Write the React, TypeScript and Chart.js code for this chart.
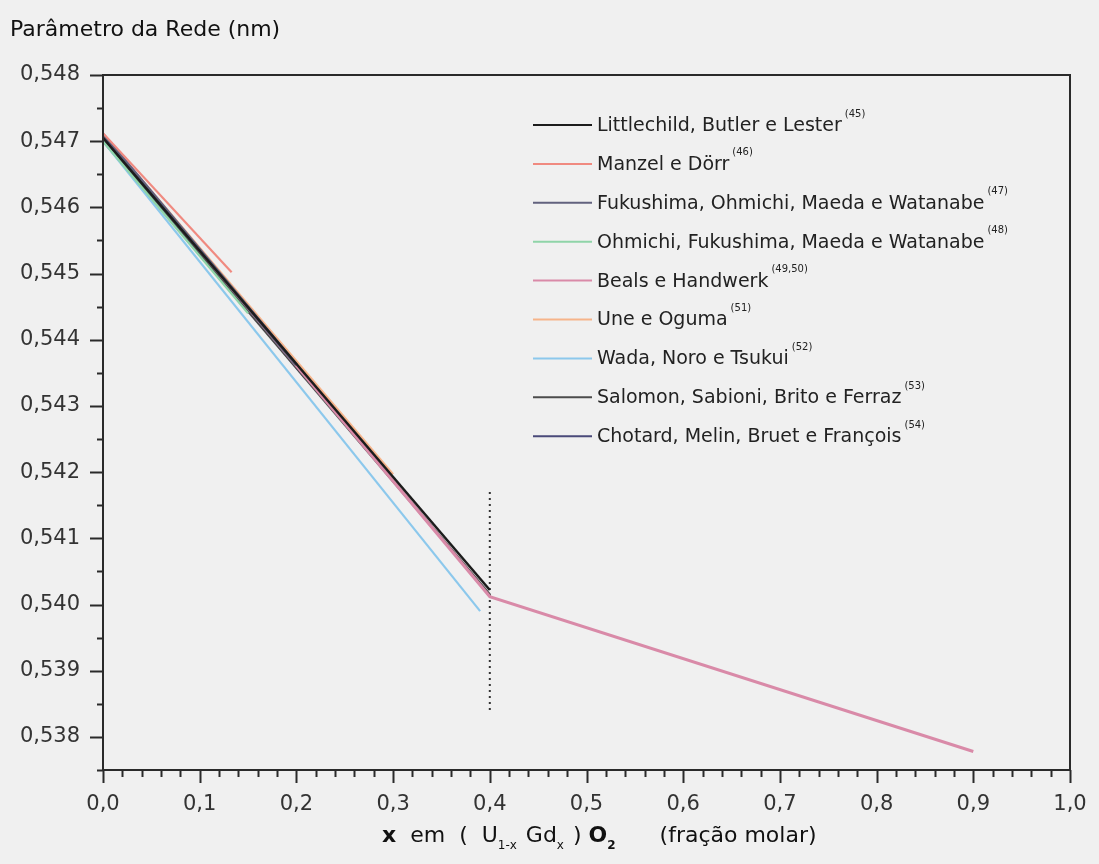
import React, { useEffect, useRef } from "react";
import { Chart, registerables } from "chart.js";

Chart.register(...registerables);

// ---- data ----
const seriesLabels = [
  "Littlechild, Butler e Lester",
  "Manzel e Dörr",
  "Fukushima, Ohmichi, Maeda e Watanabe",
  "Ohmichi, Fukushima, Maeda e Watanabe",
  "Beals e Handwerk",
  "Une e Oguma",
  "Wada, Noro e Tsukui",
  "Salomon, Sabioni, Brito e Ferraz",
  "Chotard, Melin, Bruet e François",
];
const seriesRefs = ["(45)", "(46)", "(47)", "(48)", "(49,50)", "(51)", "(52)", "(53)", "(54)"];
const seriesColors = [
  "#1c1c1c",
  "#f08a80",
  "#62627e",
  "#8fd4a8",
  "#d98aa8",
  "#f6b48a",
  "#8cc8ec",
  "#4c4c4c",
  "#4a4a7a",
];

const littlechildX = [0, 0.4];
const littlechildY = [0.54705, 0.54022];
const manzelX = [0, 0.133];
const manzelY = [0.54712, 0.54502];
const fukushimaX = [0, 0.2];
const fukushimaY = [0.5471, 0.54362];
const ohmichiX = [0, 0.15];
const ohmichiY = [0.547, 0.5444];
const bealsX = [0, 0.4, 0.9];
const bealsY = [0.5471, 0.54012, 0.53778];
const uneX = [0, 0.3];
const uneY = [0.5471, 0.54197];
const wadaX = [0, 0.39];
const wadaY = [0.547, 0.5399];
const salomonX = [0, 0.4];
const salomonY = [0.547, 0.54015];
const chotardX = [0, 0.21];
const chotardY = [0.54705, 0.54342];

const seriesX = [littlechildX, manzelX, fukushimaX, ohmichiX, bealsX, uneX, wadaX, salomonX, chotardX];
const seriesY = [littlechildY, manzelY, fukushimaY, ohmichiY, bealsY, uneY, wadaY, salomonY, chotardY];
const seriesWidths = [2.5, 2.2, 3.5, 2.2, 3, 2.2, 2.2, 2.5, 3.5];

// dotted vertical marker at x = 0.4
const markerX = [0.4, 0.4];
const markerY = [0.5417, 0.5384];

// axes
const X_MIN = 0;
const X_MAX = 1;
const X_STEP = 0.1;
const X_MINOR = 0.02;
const Y_MIN = 0.5375;
const Y_MAX = 0.548;
const Y_STEP = 0.001;
const Y_MINOR = 0.0005;

const yTitle = "Parâmetro da Rede (nm)";
const FONT = "'DejaVu Sans', sans-serif";

const framePlugin = {
  id: "frameAndText",
  afterDraw(chart: any) {
    const { ctx, chartArea } = chart;
    const { left, right, top, bottom } = chartArea;
    const xs = chart.scales.x;
    const ys = chart.scales.y;
    ctx.save();
    ctx.strokeStyle = "#2a2a2a";
    ctx.lineWidth = 2;
    ctx.strokeRect(left, top, right - left, bottom - top);

    // x ticks
    const nx = Math.round((X_MAX - X_MIN) / X_MINOR);
    const perX = Math.round(X_STEP / X_MINOR);
    ctx.lineWidth = 2;
    for (let i = 0; i <= nx; i++) {
      const v = X_MIN + i * X_MINOR;
      const px = Math.round(xs.getPixelForValue(v)) + 0.5;
      const len = i % perX === 0 ? 13 : 7;
      ctx.beginPath();
      ctx.moveTo(px, bottom);
      ctx.lineTo(px, bottom + len);
      ctx.stroke();
    }
    // y ticks
    const ny = Math.round((Y_MAX - Y_MIN) / Y_MINOR);
    const perY = Math.round(Y_STEP / Y_MINOR);
    for (let i = 0; i <= ny; i++) {
      const v = Y_MAX - i * Y_MINOR;
      if (v < Y_MIN - 1e-9) break;
      const py = Math.round(ys.getPixelForValue(v)) + 0.5;
      const len = i % perY === 0 ? 13 : 6;
      ctx.beginPath();
      ctx.moveTo(left, py);
      ctx.lineTo(left - len, py);
      ctx.stroke();
    }

    // y title
    ctx.fillStyle = "#111";
    ctx.font = `22px ${FONT}`;
    ctx.textBaseline = "middle";
    ctx.textAlign = "left";
    ctx.fillText(yTitle, 10, 30);

    // x title with subscripts
    const segs: { t: string; bold?: boolean; sub?: boolean }[] = [
      { t: "x", bold: true },
      { t: "  em  (  U" },
      { t: "1-x", sub: true },
      { t: " Gd" },
      { t: "x", sub: true },
      { t: " ) " },
      { t: "O", bold: true },
      { t: "2", sub: true, bold: true },
      { t: "      (fração molar)" },
    ];
    let x = 382;
    const baseY = 842;
    ctx.textBaseline = "alphabetic";
    for (const s of segs) {
      ctx.font = `${s.bold ? "bold " : ""}${s.sub ? 12 : 22}px ${FONT}`;
      ctx.fillText(s.t, x, s.sub ? baseY + 7 : baseY);
      x += ctx.measureText(s.t).width + (s.sub ? 2 : 0);
    }

    // legend
    const lx1 = 533;
    const lx2 = 592;
    const tx = 597;
    const y0 = 125;
    const dy = 38.9;
    chart.data.datasets.forEach((ds: any, i: number) => {
      if (ds.hiddenLegend) return;
      const y = y0 + i * dy;
      ctx.strokeStyle = ds.borderColor;
      ctx.lineWidth = 2;
      ctx.beginPath();
      ctx.moveTo(lx1, y);
      ctx.lineTo(lx2, y);
      ctx.stroke();
      ctx.fillStyle = "#222";
      ctx.font = `19px ${FONT}`;
      ctx.textBaseline = "middle";
      ctx.fillText(ds.label, tx, y + 1);
      const w = ctx.measureText(ds.label).width;
      ctx.font = `10px ${FONT}`;
      ctx.fillText(seriesRefs[i], tx + w + 3, y - 11);
    });
    ctx.restore();
  },
};

export default function App() {
  const ref = useRef<HTMLCanvasElement | null>(null);
  useEffect(() => {
    if (!ref.current) return;
    const datasets: any[] = seriesLabels.map((label, i) => ({
      label,
      data: seriesX[i].map((x, j) => ({ x, y: seriesY[i][j] })),
      borderColor: seriesColors[i],
      backgroundColor: seriesColors[i],
      borderWidth: seriesWidths[i],
      pointRadius: 0,
      fill: false,
      tension: 0,
    }));
    datasets.push({
      label: "marker",
      hiddenLegend: true,
      data: markerX.map((x, j) => ({ x, y: markerY[j] })),
      borderColor: "#333",
      borderWidth: 2,
      borderDash: [2, 4],
      pointRadius: 0,
      fill: false,
    });
    const chart = new Chart(ref.current, {
      type: "line",
      data: { datasets },
      options: {
        animation: false,
        responsive: false,
        devicePixelRatio: 1,
        layout: { padding: { left: 0, right: 29, top: 75, bottom: 0 } },
        plugins: { legend: { display: false }, tooltip: { enabled: false }, title: { display: false } },
        scales: {
          x: {
            type: "linear",
            min: X_MIN,
            max: X_MAX,
            grid: { display: false, drawTicks: true, tickLength: 22 },
            border: { display: false },
            ticks: {
              stepSize: X_STEP,
              includeBounds: false,
              padding: 0,
              color: "#333",
              font: { family: FONT, size: 21 },
              maxRotation: 0,
              callback: (v: any) => Number(v).toFixed(1).replace(".", ","),
            },
            afterFit: (s: any) => {
              s.height = 94;
            },
          },
          y: {
            type: "linear",
            min: Y_MIN,
            max: Y_MAX,
            grid: { display: false, drawTicks: true, tickLength: 23 },
            border: { display: false },
            ticks: {
              stepSize: Y_STEP,
              includeBounds: false,
              padding: 0,
              color: "#333",
              font: { family: FONT, size: 21 },
              callback: (v: any) => Number(v).toFixed(3).replace(".", ","),
            },
            afterFit: (s: any) => {
              s.width = 103;
            },
          },
        },
      },
      plugins: [framePlugin],
    });
    return () => chart.destroy();
  }, []);
  return (
    <div style={{ position: "absolute", left: 0, top: 0, width: 1099, height: 864, background: "#f0f0f0" }}>
      <canvas ref={ref} width={1099} height={864} style={{ width: 1099, height: 864, display: "block" }} />
    </div>
  );
}
